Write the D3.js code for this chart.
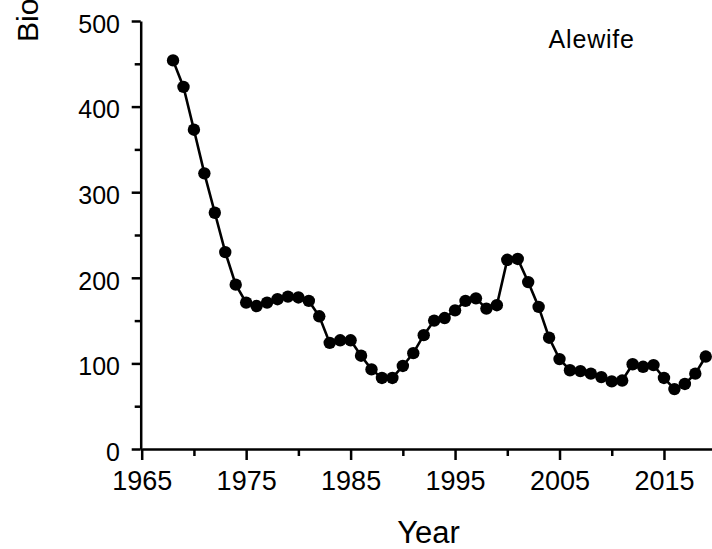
<!DOCTYPE html>
<html>
<head>
<meta charset="utf-8">
<script src="https://cdn.jsdelivr.net/npm/d3@7"></script>
<style>
  html, body { margin: 0; padding: 0; background: #fff; overflow: hidden; }
  svg { display: block; }
</style>
</head>
<body>
<svg id="chart" width="712" height="549"></svg>
<script>
const years = [1968,1969,1970,1971,1972,1973,1974,1975,1976,1977,1978,1979,1980,1981,1982,1983,1984,1985,1986,1987,1988,1989,1990,1991,1992,1993,1994,1995,1996,1997,1998,1999,2000,2001,2002,2003,2004,2005,2006,2007,2008,2009,2010,2011,2012,2013,2014,2015,2016,2017,2018,2019];
const biomass = [454,423,373,322,276,230,192,171,167,171,175,178,177,173,155,124,127,127,109,93,83,83,97,112,133,150,153,162,173,176,164,168,221,222,195,166,130,105,92,91,88,84,79,80,99,96,98,83,70,76,88,108];
const xMajorTicks = [1965,1975,1985,1995,2005,2015];
const xMinorTicks = [1970,1980,1990,2000,2010,2020];
const yMajorTicks = [0,100,200,300,400,500];
const yMinorTicks = [50,150,250,350,450];
const seriesName = "Alewife";
const xTitle = "Year";
const yTitle = "Bio";

const svg = d3.select("#chart");
const x = d3.scaleLinear().domain([1965, 2020]).range([141.7, 716.2]);
const y = d3.scaleLinear().domain([0, 500]).range([449, 21]);
const font = "'Liberation Sans', Arial, sans-serif";

// X axis
const gx = svg.append("g").attr("transform", "translate(0,449)");
gx.call(d3.axisBottom(x).tickValues(xMajorTicks).tickSize(11).tickSizeOuter(0).tickFormat(d3.format("d")));
const gxm = svg.append("g").attr("transform", "translate(0,449)");
gxm.call(d3.axisBottom(x).tickValues(xMinorTicks).tickSize(7).tickSizeOuter(0).tickFormat(""));
gxm.select(".domain").remove();

// Y axis
const gy = svg.append("g").attr("transform", "translate(140.7,0)");
gy.call(d3.axisLeft(y).tickValues(yMajorTicks).tickSize(9).tickSizeOuter(0).tickFormat(d3.format("d")));
const gym = svg.append("g").attr("transform", "translate(140.7,0)");
gym.call(d3.axisLeft(y).tickValues(yMinorTicks).tickSize(6).tickSizeOuter(0).tickFormat(""));
gym.select(".domain").remove();

svg.selectAll(".domain").attr("stroke", "#000").attr("stroke-width", 2.5);
svg.selectAll(".tick line").attr("stroke", "#000").attr("stroke-width", 2.5);

gx.selectAll(".tick text")
  .attr("y", 0).attr("dy", 0)
  .attr("transform", "translate(0,41)")
  .attr("font-family", font).attr("font-size", 27).attr("fill", "#000");
gy.selectAll(".tick text")
  .attr("x", -20.7).attr("dy", "0.45em")
  .attr("font-family", font).attr("font-size", 25).attr("fill", "#000")
  .attr("text-anchor", "end");

// line + markers
const data = years.map((yr, i) => ({ yr, v: biomass[i] }));
const line = d3.line().x(d => x(d.yr)).y(d => y(d.v));
svg.append("path").datum(data)
  .attr("d", line).attr("fill", "none").attr("stroke", "#000").attr("stroke-width", 2.6);
svg.append("g").selectAll("circle").data(data).join("circle")
  .attr("cx", d => x(d.yr)).attr("cy", d => y(d.v)).attr("r", 6.2).attr("fill", "#000");

// texts
svg.append("text").attr("x", 591.7).attr("y", 48.3).attr("text-anchor", "middle")
  .attr("font-family", font).attr("font-size", 25).attr("letter-spacing", 0.8).attr("fill", "#000")
  .text(seriesName);
svg.append("text").attr("x", 428.5).attr("y", 542.5).attr("text-anchor", "middle")
  .attr("font-family", font).attr("font-size", 31).attr("fill", "#000")
  .text(xTitle);
svg.append("text").attr("transform", "translate(38.3,42) rotate(-90)")
  .attr("text-anchor", "start")
  .attr("font-family", font).attr("font-size", 30).attr("fill", "#000")
  .text(yTitle);
</script>
</body>
</html>
